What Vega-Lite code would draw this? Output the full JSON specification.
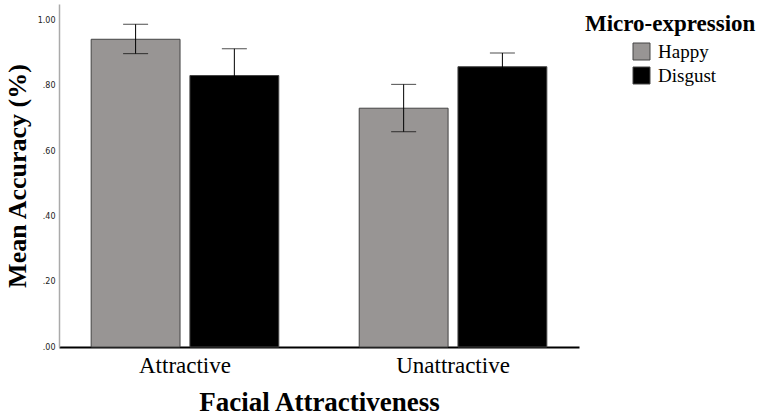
{
  "$schema": "https://vega.github.io/schema/vega-lite/v6.json",
  "description": "Mean accuracy by facial attractiveness and micro-expression, with error bars.",
  "autosize": {"type": "none"},
  "padding": {"left": 59, "top": 4, "right": 186, "bottom": 70},
  "width": 520,
  "height": 343,
  "background": "white",
  "config": {
    "view": {"stroke": null},
    "font": "Liberation Serif"
  },
  "data": {
    "values": [
      {"face": "Attractive", "expr": "Happy", "mean": 0.942, "lo": 0.898, "hi": 0.988},
      {"face": "Attractive", "expr": "Disgust", "mean": 0.831, "lo": 0.750, "hi": 0.913},
      {"face": "Unattractive", "expr": "Happy", "mean": 0.731, "lo": 0.659, "hi": 0.804},
      {"face": "Unattractive", "expr": "Disgust", "mean": 0.858, "lo": 0.816, "hi": 0.900}
    ]
  },
  "encoding": {
    "x": {
      "field": "face",
      "type": "nominal",
      "title": "Facial Attractiveness",
      "sort": ["Attractive", "Unattractive"],
      "scale": {"paddingInner": 0.3, "paddingOuter": 0.12},
      "axis": {
        "domainColor": "black",
        "domainWidth": 2,
        "ticks": false,
        "labelAngle": 0,
        "labelFont": "Liberation Serif",
        "labelFontSize": 23,
        "labelColor": "black",
        "labelPadding": 7,
        "titleFont": "Liberation Serif",
        "titleFontSize": 27,
        "titleFontWeight": "bold",
        "titleColor": "black",
        "titlePadding": 12
      }
    },
    "xOffset": {
      "field": "expr",
      "type": "nominal",
      "sort": ["Happy", "Disgust"],
      "scale": {"paddingInner": 0.1, "paddingOuter": 0}
    }
  },
  "layer": [
    {
      "mark": {"type": "bar", "stroke": "#444", "strokeWidth": 1},
      "encoding": {
        "y": {
          "field": "mean",
          "type": "quantitative",
          "title": "Mean Accuracy (%)",
          "scale": {"domain": [0, 1.05], "nice": false},
          "axis": {
            "values": [0, 0.2, 0.4, 0.6, 0.8, 1],
            "labelExpr": "datum.value >= 1 ? format(datum.value, '.2f') : substring(format(datum.value, '.2f'), 1)",
            "grid": false,
            "ticks": false,
            "domainColor": "#aaa",
            "domainWidth": 1.5,
            "labelFont": "DejaVu Sans",
            "labelFontSize": 8,
            "labelColor": "#222",
            "labelPadding": 4,
            "titleFont": "Liberation Serif",
            "titleFontSize": 26,
            "titleFontWeight": "bold",
            "titleColor": "black",
            "titlePadding": 7
          }
        },
        "color": {
          "field": "expr",
          "type": "nominal",
          "sort": ["Happy", "Disgust"],
          "title": "Micro-expression",
          "scale": {"domain": ["Happy", "Disgust"], "range": ["#989594", "#000000"]},
          "legend": {
            "orient": "none",
            "legendX": 526,
            "legendY": 9,
            "symbolType": "square",
            "symbolSize": 289,
            "symbolStrokeColor": "#444",
            "symbolStrokeWidth": 1,
            "symbolOffset": 47,
            "rowPadding": 3,
            "labelFont": "Liberation Serif",
            "labelFontSize": 19,
            "labelColor": "black",
            "labelOffset": 7,
            "titleFont": "Liberation Serif",
            "titleFontSize": 23,
            "titleFontWeight": "bold",
            "titleColor": "black",
            "titlePadding": 6
          }
        }
      }
    },
    {
      "mark": {"type": "rule", "color": "black", "strokeWidth": 1},
      "encoding": {
        "y": {"field": "lo", "type": "quantitative"},
        "y2": {"field": "hi"}
      }
    },
    {
      "mark": {"type": "tick", "color": "black", "thickness": 1, "size": 25},
      "encoding": {
        "y": {"field": "lo", "type": "quantitative"}
      }
    },
    {
      "mark": {"type": "tick", "color": "black", "thickness": 1, "size": 25},
      "encoding": {
        "y": {"field": "hi", "type": "quantitative"}
      }
    }
  ]
}
